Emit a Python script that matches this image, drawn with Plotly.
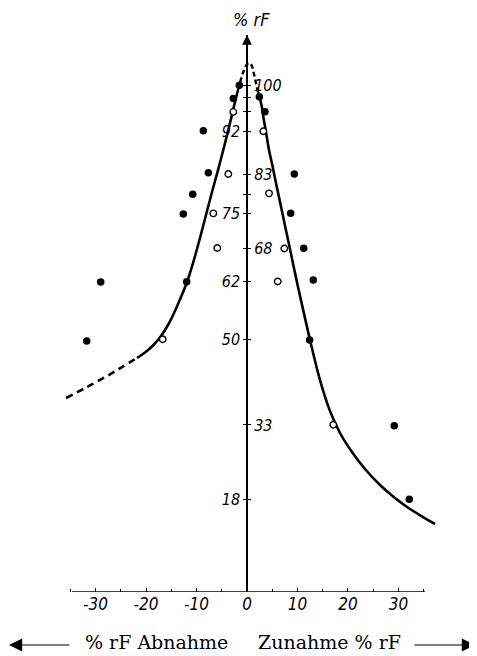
import plotly.graph_objects as go

# ---- data (y in axis-position units) ----
level_labels = ["100", "92", "83", "75", "68", "62", "50", "33", "18"]
level_pos = [100.1, 91.0, 82.5, 74.7, 67.8, 61.3, 49.8, 33.0, 18.2]
minor_level_pos = [97.6, 94.8, 78.6]
left_side_labels = ["92", "75", "62", "50", "18"]

filled_x = [-1.52, -2.71, -8.65, -7.66, -10.75, -12.61, -11.94, -28.97, -31.74,
            2.44, 3.56, 9.37, 8.65, 11.23, 13.13, 12.40, 29.17, 32.14]
filled_y = [100.1, 97.45, 91.09, 82.80, 78.53, 74.64, 61.27, 61.22, 49.57,
            97.81, 94.85, 82.54, 74.78, 67.87, 61.61, 49.76, 32.84, 18.31]

open_x = [-2.71, -3.70, -6.67, -5.88, -16.69, 3.23, 4.36, 7.39, 6.08, 17.09]
open_y = [94.81, 82.54, 74.78, 67.93, 49.90, 91.0, 78.73, 67.83, 61.31, 33.04]

# curve: dashed left tail, solid left branch, dashed top, solid right branch
left_tail_x = [-35.84, -31.68, -27.72, -24.75, -21.78]
left_tail_y = [38.31, 40.48, 42.65, 44.43, 46.21]
left_solid_x = [-21.78, -20.20, -18.61, -17.03, -15.64, -14.26, -13.07, -11.88, -10.69,
                -9.31, -8.12, -6.93, -5.74, -4.55, -3.56, -2.57, -1.78]
left_solid_y = [46.21, 47.29, 48.68, 50.55, 52.73, 55.49, 58.25, 61.22, 64.97,
                69.91, 74.45, 78.99, 83.33, 87.88, 91.82, 95.97, 99.13]
top_dash_x = [-1.78, -1.19, -0.59, -0.10, 0.40, 0.89, 1.29, 1.78, 2.18]
top_dash_y = [99.13, 101.30, 103.08, 104.07, 104.46, 104.07, 102.69, 100.51, 98.74]
right_solid_x = [2.18, 2.87, 3.27, 3.76, 4.36, 5.05, 5.74, 7.13, 8.51, 10.10, 11.49, 12.67,
                 14.46, 16.44, 18.42, 20.79, 23.37, 26.34, 29.31, 32.28, 34.85, 37.23]
right_solid_y = [98.74, 96.17, 93.60, 90.86, 87.28, 84.12, 80.77, 74.25, 67.73, 60.23, 54.09, 48.97,
                 41.86, 35.74, 31.40, 27.65, 24.29, 21.13, 18.56, 16.39, 14.81, 13.43]

x_ticks = [-30, -20, -10, 0, 10, 20, 30]
x_range = [-36.24, 37.43]
y_range = [0, 110]
axis_x_extent = [-34.65, 35.25]

# ---- figure (page body has an 8px margin) ----
OFF = 8
W, H = 477 - OFF, 656 - OFF
ML, MR, MT, MB = 64 - OFF, 41, 35 - OFF, 64
pw = W - ML - MR
ph = H - MT - MB
x0_paper = (0 - x_range[0]) / (x_range[1] - x_range[0])


def px(sx):  # screen x -> paper x
    return (sx - 64) / pw


def py(sy):  # screen y -> paper y
    return (592 - sy) / ph


tickfont = dict(family="DejaVu Sans Condensed, DejaVu Sans, sans-serif",
                size=16, color="black", style="italic")
serif = dict(family="DejaVu Serif, Liberation Serif, serif", size=19, color="black")

fig = go.Figure()
solid = dict(color="black", width=2.6)
spl = dict(mode="lines", line_shape="spline", hoverinfo="skip")
fig.add_trace(go.Scatter(x=left_tail_x, y=left_tail_y,
                         line=dict(color="black", width=2.6, dash="7px,5px"), **spl))
fig.add_trace(go.Scatter(x=left_solid_x, y=left_solid_y, line=solid, **spl))
fig.add_trace(go.Scatter(x=top_dash_x, y=top_dash_y,
                         line=dict(color="black", width=2.4, dash="5px,3px"), **spl))
fig.add_trace(go.Scatter(x=right_solid_x, y=right_solid_y, line=solid, **spl))
fig.add_trace(go.Scatter(x=filled_x, y=filled_y, mode="markers",
                         marker=dict(size=7.5, color="black"), hoverinfo="skip"))
fig.add_trace(go.Scatter(x=open_x, y=open_y, mode="markers",
                         marker=dict(size=6.5, color="white", line=dict(color="black", width=1.4)),
                         hoverinfo="skip"))
# helper trace so the right-hand label axis is drawn
fig.add_trace(go.Scatter(x=[None], y=[None], yaxis="y2", mode="markers", hoverinfo="skip"))

left_text = [l if l in left_side_labels else "" for l in level_labels]
right_text = [l if l not in left_side_labels else "" for l in level_labels]

fig.update_layout(
    width=W, height=H, showlegend=False,
    margin=dict(l=ML, r=MR, t=MT, b=MB, pad=0),
    paper_bgcolor="white", plot_bgcolor="white",
    xaxis=dict(range=x_range, showgrid=False, zeroline=False, showline=False,
               tickmode="array", tickvals=x_ticks, ticktext=[str(v) for v in x_ticks],
               ticks="inside", ticklen=4, tickwidth=1, tickcolor="black",
               minor=dict(dtick=5, tick0=0, ticks="inside", ticklen=3, tickcolor="black"),
               tickfont=dict(tickfont, size=17)),
    yaxis=dict(range=y_range, showgrid=False, zeroline=False, showline=True,
               linecolor="black", linewidth=1.5,
               anchor="free", position=x0_paper, side="left",
               tickmode="array", tickvals=level_pos + minor_level_pos,
               ticktext=left_text + ["", "", ""],
               ticks="outside", ticklen=3, tickcolor="black", tickfont=tickfont),
    yaxis2=dict(range=y_range, overlaying="y", showgrid=False, zeroline=False, showline=False,
                anchor="free", position=x0_paper, side="right",
                tickmode="array", tickvals=level_pos + minor_level_pos,
                ticktext=right_text + ["", "", ""],
                ticks="outside", ticklen=3, tickcolor="black", tickfont=tickfont),
    shapes=[dict(type="line", xref="x", yref="y", x0=axis_x_extent[0], x1=axis_x_extent[1],
                 y0=0, y1=0, line=dict(color="black", width=1.3))],
    annotations=[
        dict(x=0, y=y_range[1], xref="x", yref="y", text="", showarrow=True,
             ax=0, ay=14, arrowhead=2, arrowsize=1.3, arrowwidth=1.5, arrowcolor="black"),
        dict(x=px(251), y=py(19), xref="paper", yref="paper", xanchor="center", yanchor="middle",
             text="% rF", showarrow=False,
             font=dict(family=tickfont["family"], size=18, color="black", style="italic")),
        dict(x=px(156), y=py(642), xref="paper", yref="paper", xanchor="center", yanchor="middle",
             text="% rF Abnahme", showarrow=False, font=serif),
        dict(x=px(329), y=py(642), xref="paper", yref="paper", xanchor="center", yanchor="middle",
             text="Zunahme % rF", showarrow=False, font=serif),
        dict(x=px(9), y=py(645), xref="paper", yref="paper",
             text="", showarrow=True, ax=62, ay=0, arrowhead=2, arrowsize=2.2,
             arrowwidth=1.2, arrowcolor="black"),
        dict(x=px(475), y=py(645), xref="paper", yref="paper",
             text="", showarrow=True, ax=-62, ay=0, arrowhead=2, arrowsize=2.2,
             arrowwidth=1.2, arrowcolor="black"),
    ],
)

fig.write_html("out.html")
